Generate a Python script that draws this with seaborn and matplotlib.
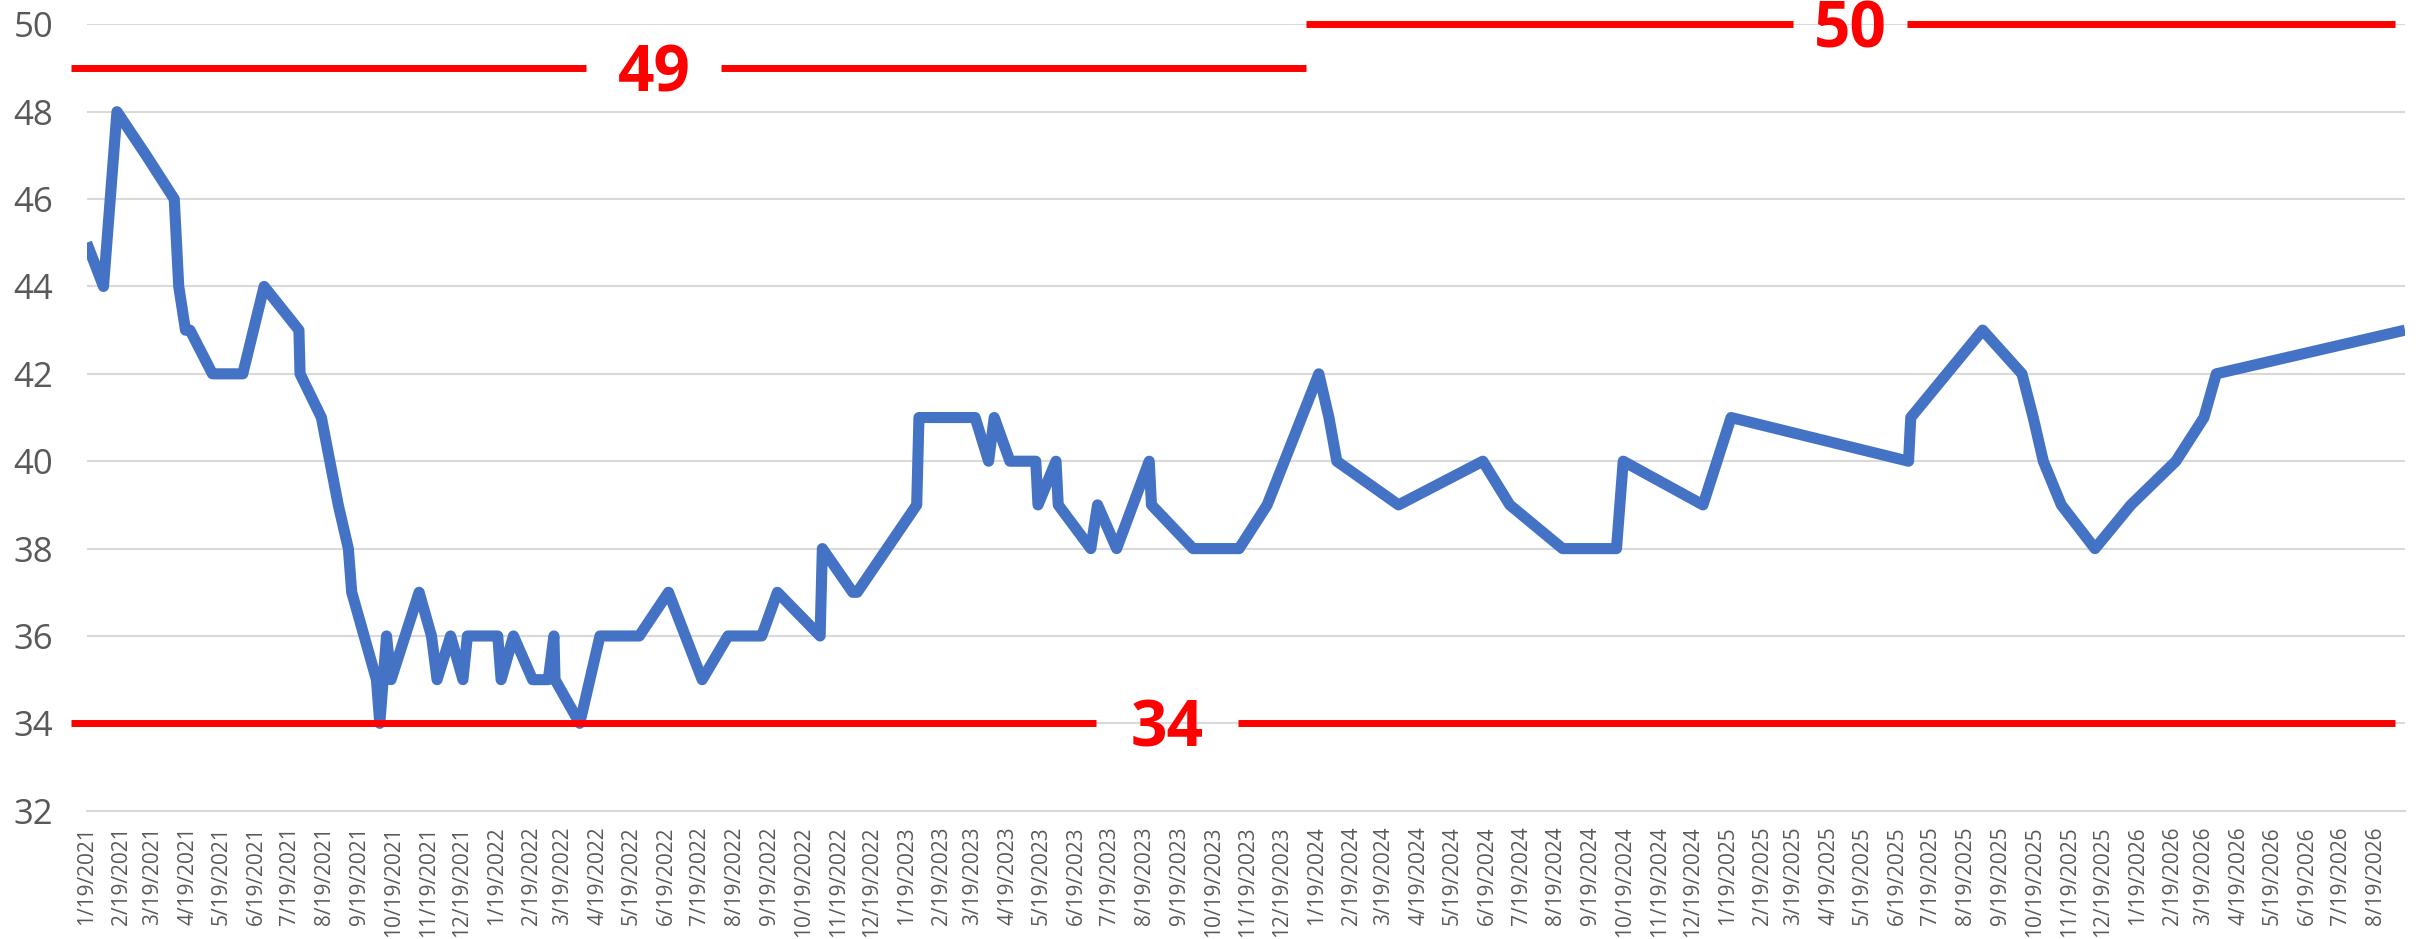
import pandas as pd
import seaborn as sns
import matplotlib.pyplot as plt
import matplotlib.dates as mdates
import matplotlib.ticker as mticker

dates = [
    "2021-01-19", "2021-02-03", "2021-02-15", "2021-03-13", "2021-04-07",
    "2021-04-11", "2021-04-17", "2021-04-21", "2021-05-11", "2021-06-07",
    "2021-06-26", "2021-07-27", "2021-07-28", "2021-08-16", "2021-08-31",
    "2021-09-09", "2021-09-12", "2021-09-23", "2021-10-04", "2021-10-07",
    "2021-10-13", "2021-10-17", "2021-11-11", "2021-11-22", "2021-11-27",
    "2021-12-09", "2021-12-20", "2021-12-24", "2022-01-20", "2022-01-23",
    "2022-02-03", "2022-02-20", "2022-03-06", "2022-03-11", "2022-03-12",
    "2022-04-03", "2022-04-21", "2022-05-26", "2022-06-21", "2022-07-21",
    "2022-08-13", "2022-09-12", "2022-09-26", "2022-11-03", "2022-11-05",
    "2022-12-02", "2022-12-06", "2023-01-28", "2023-01-30", "2023-03-21",
    "2023-04-02", "2023-04-07", "2023-04-21", "2023-05-14", "2023-05-16",
    "2023-06-01", "2023-06-03", "2023-07-02", "2023-07-08", "2023-07-25",
    "2023-08-23", "2023-08-25", "2023-10-01", "2023-11-11", "2023-12-06",
    "2024-01-21", "2024-01-30", "2024-02-06", "2024-04-01", "2024-06-15",
    "2024-07-09", "2024-08-25", "2024-10-12", "2024-10-18", "2024-12-28",
    "2025-01-22", "2025-06-29", "2025-07-01", "2025-09-03", "2025-10-08",
    "2025-10-18", "2025-10-27", "2025-11-12", "2025-12-12", "2026-01-13",
    "2026-02-22", "2026-03-19", "2026-03-30", "2026-09-14",
]
values = [
    45, 44, 48, 47, 46,
    44, 43, 43, 42, 42,
    44, 43, 42, 41, 39,
    38, 37, 36, 35, 34,
    36, 35, 37, 36, 35,
    36, 35, 36, 36, 35,
    36, 35, 35, 36, 35,
    34, 36, 36, 37, 35,
    36, 36, 37, 36, 38,
    37, 37, 39, 41, 41,
    40, 41, 40, 40, 39,
    40, 39, 38, 39, 38,
    40, 39, 38, 38, 39,
    42, 41, 40, 39, 40,
    39, 38, 38, 40, 39,
    41, 40, 41, 43, 42,
    41, 40, 39, 38, 39,
    40, 41, 42, 43,
]

# red reference lines (record high / low levels)
ref_levels = [49, 50, 34]
ref_starts = ["2021-01-05", "2024-01-10", "2021-01-05"]
ref_ends = ["2024-01-10", "2026-09-05", "2026-09-05"]
ref_label_dates = ["2022-06-08", "2025-05-08", "2023-09-08"]
ref_gap_days = [60, 51, 63]

x_start = "2021-01-19"
x_end = "2026-09-14"

df = pd.DataFrame({"date": pd.to_datetime(dates), "value": values})

sns.set_style("white")
plt.rcParams["font.family"] = ["Open Sans", "DejaVu Sans"]

fig, ax = plt.subplots(figsize=(24.2, 9.39), dpi=100)
fig.subplots_adjust(left=0.0358, right=0.9938, top=0.9741, bottom=0.1366)

sns.lineplot(data=df, x="date", y="value", ax=ax, estimator=None,
             color="#4472C4", zorder=3)
line = ax.lines[-1]
line.set_linewidth(8)
line.set_solid_joinstyle("round")
line.set_solid_capstyle("butt")

for level, start, end, mid, gap in zip(ref_levels, ref_starts, ref_ends,
                                       ref_label_dates, ref_gap_days):
    s = mdates.date2num(pd.Timestamp(start))
    e = mdates.date2num(pd.Timestamp(end))
    m = mdates.date2num(pd.Timestamp(mid))
    ax.hlines([level, level], [s, m + gap], [m - gap, e], colors="#FF0000",
              linewidth=5, zorder=4, clip_on=False)
    ax.annotate(str(level), xy=(m, level), xytext=(0, -17),
                textcoords="offset points", ha="center", va="baseline",
                color="#FF0000", fontsize=46, fontweight="bold",
                zorder=5, annotation_clip=False)

ax.set_xlim(pd.Timestamp(x_start), pd.Timestamp(x_end))
ax.set_ylim(32, 50)
ax.set_yticks(range(32, 51, 2))

ax.xaxis.set_major_locator(mdates.MonthLocator(bymonthday=19))
ax.xaxis.set_major_formatter(mticker.FuncFormatter(
    lambda x, pos: "{d.month}/{d.day}/{d.year}".format(d=mdates.num2date(x))))

ax.tick_params(axis="x", rotation=90, labelsize=15, labelcolor="#595959",
               color="#d9d9d9", length=6, width=1.5, pad=5)
ax.tick_params(axis="y", length=0, labelsize=25, labelcolor="#595959", pad=24)

ax.grid(axis="y", color="#d9d9d9", linewidth=1.5)
ax.grid(axis="x", visible=False)
ax.set_axisbelow(True)
sns.despine(ax=ax, left=True)
ax.spines["bottom"].set_color("#d9d9d9")
ax.spines["bottom"].set_linewidth(1.5)
ax.set_xlabel("")
ax.set_ylabel("")

fig.savefig("out.png", dpi=100)
